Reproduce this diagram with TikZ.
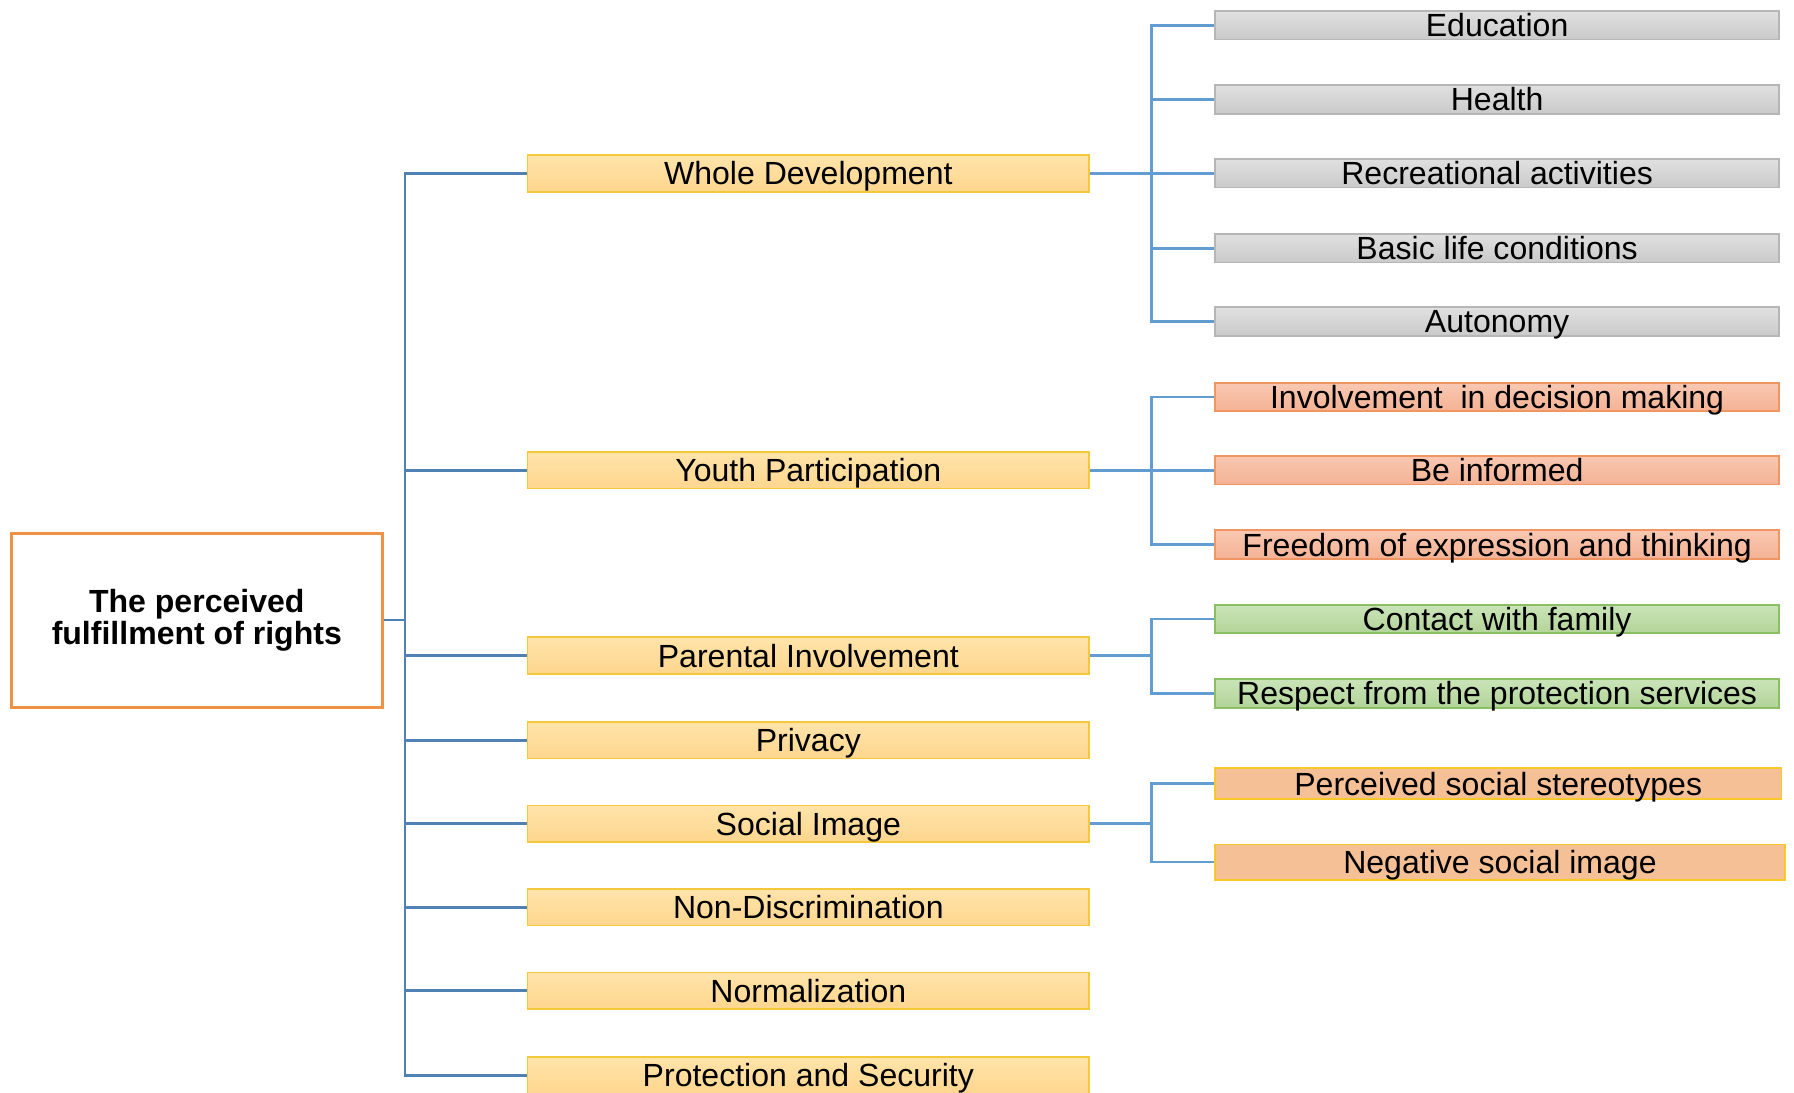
\documentclass[tikz,border=0pt]{standalone}
\usepackage{fontspec}
\setmainfont{Liberation Sans}
\definecolor{trunkc}{RGB}{79,129,180}
\definecolor{branchc}{RGB}{98,157,210}
\definecolor{rootc}{RGB}{240,145,70}
\definecolor{lonetop}{RGB}{255,228,170}
\definecolor{lonebot}{RGB}{254,214,142}
\definecolor{loneb}{RGB}{245,200,60}
\definecolor{greytop}{RGB}{224,224,224}
\definecolor{greybot}{RGB}{202,202,202}
\definecolor{greyb}{RGB}{182,182,182}
\definecolor{salmtop}{RGB}{249,200,178}
\definecolor{salmbot}{RGB}{244,178,148}
\definecolor{salmb}{RGB}{240,150,100}
\definecolor{grntop}{RGB}{202,228,184}
\definecolor{grnbot}{RGB}{178,212,152}
\definecolor{grnb}{RGB}{140,190,100}
\definecolor{peachf}{RGB}{246,192,150}
\definecolor{peachb}{RGB}{248,200,40}
\tikzset{
  lbl/.style={inner sep=0pt, text height=20pt, text depth=0pt,
    font=\fontsize{28}{28}\selectfont, line width=1.5pt},
  lone/.style={lbl, draw=loneb, top color=lonetop, bottom color=lonebot,
    minimum width=491pt, minimum height=32pt},
  ltwo/.style={lbl, minimum width=493pt, minimum height=25pt},
  greybox/.style={ltwo, draw=greyb, top color=greytop, bottom color=greybot},
  salmbox/.style={ltwo, draw=salmb, top color=salmtop, bottom color=salmbot},
  grnbox/.style={ltwo, draw=grnb, top color=grntop, bottom color=grnbot},
  peachbox/.style={ltwo, draw=peachb, fill=peachf},
  trunk/.style={draw=trunkc, line width=2.4pt},
  branch/.style={draw=branchc, line width=2.4pt},
}
\begin{document}
\begin{tikzpicture}[x=1pt,y=-1pt]
\useasboundingbox (0,0) rectangle (1568,955);
% root
\node[draw=rootc, line width=2.5pt, fill=white, minimum width=324pt, minimum height=152pt,
  align=center, font=\fontsize{28}{28}\selectfont\bfseries, inner sep=0pt]
  (root) at (172,542) {\raisebox{-2pt}{The perceived}\\\raisebox{-2pt}{fulfillment of rights}};
% level 1
\node[lone] (wd) at (706.5,151.5) {Whole Development};
\node[lone] (yp) at (706.5,411) {Youth Participation};
\node[lone] (pi) at (706.5,573) {Parental Involvement};
\node[lone] (pr) at (706.5,647) {Privacy};
\node[lone] (si) at (706.5,720) {Social Image};
\node[lone] (nd) at (706.5,793) {Non-Discrimination};
\node[lone] (no) at (706.5,866) {Normalization};
\node[lone] (ps) at (706.5,940) {Protection and Security};
% level 2
\node[greybox] (edu) at (1308.5,22) {Education};
\node[greybox] (hea) at (1308.5,87) {Health};
\node[greybox] (rec) at (1308.5,151.5) {Recreational activities};
\node[greybox] (bas) at (1308.5,217) {Basic life conditions};
\node[greybox] (aut) at (1308.5,281) {Autonomy};
\node[salmbox] (inv) at (1308.5,347) {Involvement\ \ in decision making};
\node[salmbox] (inf) at (1308.5,411) {Be informed};
\node[salmbox] (fre) at (1308.5,476) {Freedom of expression and thinking};
\node[grnbox] (con) at (1308.5,541) {Contact with family};
\node[grnbox] (res) at (1308.5,606) {Respect from the protection services};
\node[peachbox, minimum width=495pt, minimum height=27pt] (per) at (1309.5,685) {Perceived social stereotypes};
\node[peachbox, minimum width=498pt, minimum height=31pt] (neg) at (1311,753.5) {Negative social image};
% trunk
\coordinate (ttop) at (354,151.5);
\coordinate (tbot) at (354,940);
\draw[trunk] (root.east) -- (root.east -| ttop);
\draw[trunk, line cap=rect] (ttop) -- (tbot);
\foreach \n in {wd,yp,pi,pr,si,nd,no,ps}{
  \draw[trunk] (\n.west) -- (\n.west -| ttop);
}
% branches
\draw[branch] (edu.west) -- ++(-55,0) |- (aut.west);
\draw[branch] (hea.west) -- ++(-55,0);
\draw[branch] (bas.west) -- ++(-55,0);
\draw[branch] (wd.east) -- (rec.west);
\draw[branch] (inv.west) -- ++(-55,0) |- (fre.west);
\draw[branch] (yp.east) -- (inf.west);
\draw[branch] (con.west) -- ++(-55,0) |- (res.west);
\draw[branch] (pi.east) -- ++(55,0);
\draw[branch] (per.west) -- ++(-55,0) |- (neg.west);
\draw[branch] (si.east) -- ++(55,0);
\end{tikzpicture}
\end{document}
